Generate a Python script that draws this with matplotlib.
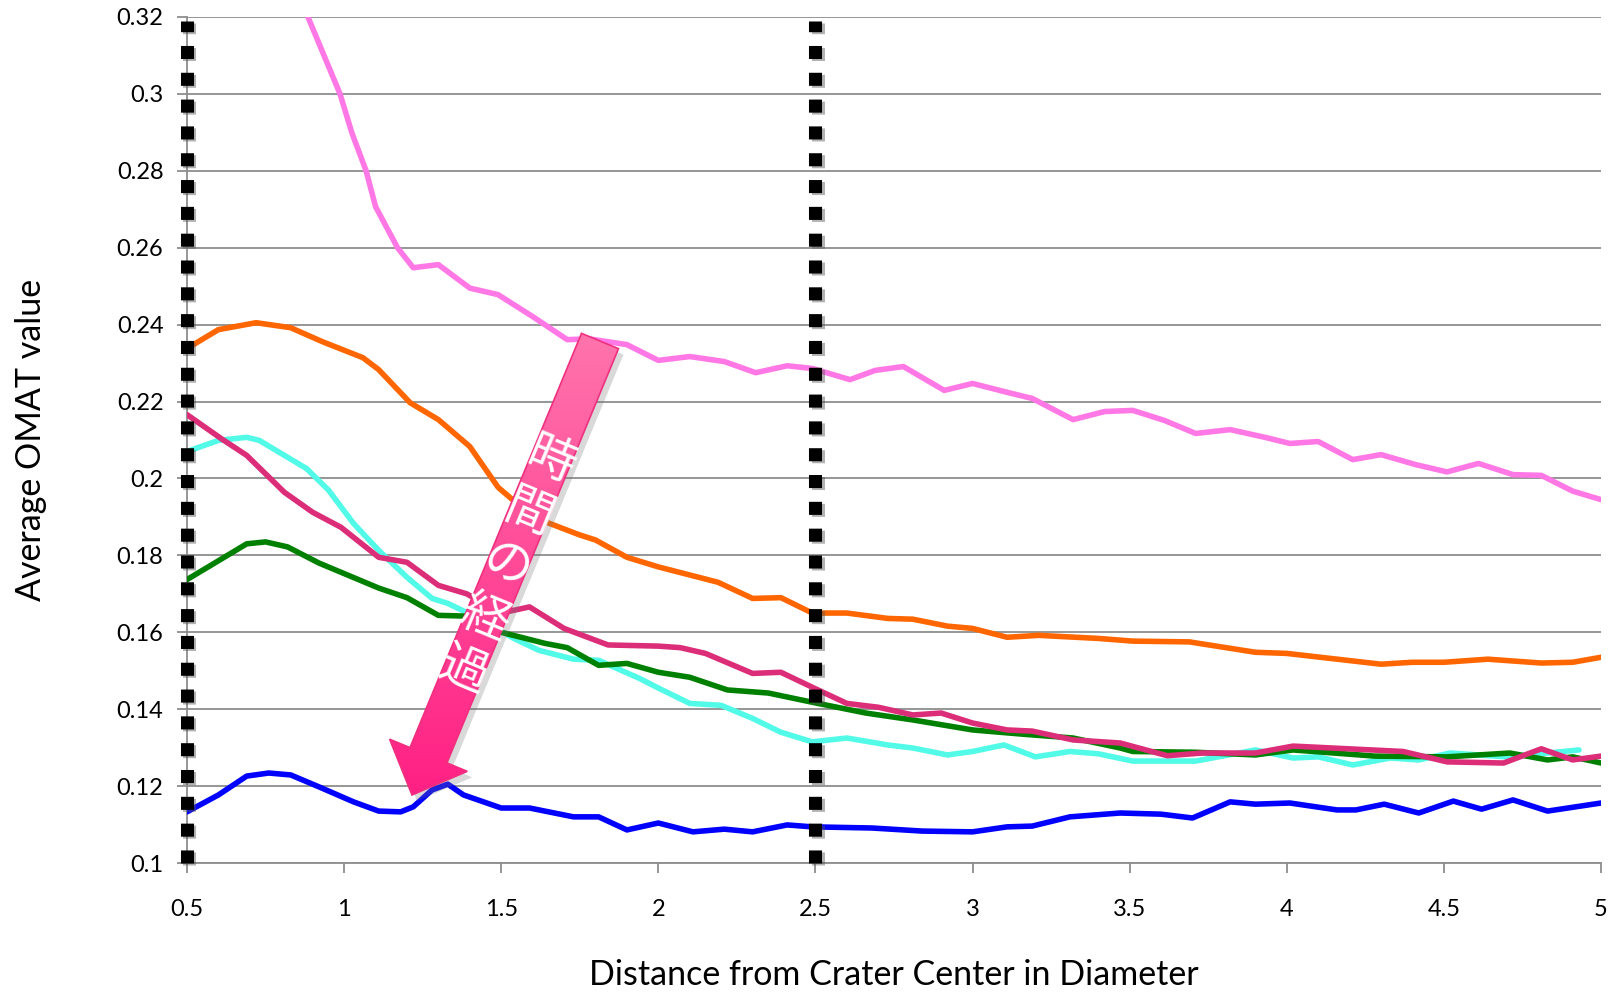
import numpy as np
import matplotlib
matplotlib.use('Agg')
import matplotlib.pyplot as plt
import matplotlib.patheffects as pe
from matplotlib.patches import Polygon
from matplotlib.colors import LinearSegmentedColormap

plt.rcParams['font.family'] = ['Lato', 'DejaVu Sans']

# series
pink_x = [0.885, 0.987, 1.025, 1.07, 1.10, 1.17, 1.22, 1.30, 1.40, 1.49, 1.60, 1.71, 1.78, 1.90, 2.0, 2.10,
          2.21, 2.31, 2.41, 2.49, 2.61, 2.69, 2.78, 2.91, 3.0, 3.11, 3.19, 3.32, 3.42, 3.51, 3.61, 3.71,
          3.82, 3.93, 4.01, 4.10, 4.21, 4.30, 4.41, 4.51, 4.61, 4.72, 4.81, 4.91, 5.0]
pink_y = [0.320, 0.300, 0.2898, 0.280, 0.2707, 0.260, 0.2548, 0.2556, 0.2495, 0.2478, 0.2421, 0.2361, 0.2363,
          0.2348, 0.2307, 0.2317, 0.2304, 0.2275, 0.2293, 0.2286, 0.2257, 0.2281, 0.2291, 0.2229, 0.2247,
          0.2224, 0.2208, 0.2153, 0.2174, 0.2177, 0.2151, 0.2117, 0.2127, 0.2107, 0.2091, 0.2096, 0.2049,
          0.2062, 0.2036, 0.2017, 0.2039, 0.2010, 0.2008, 0.1967, 0.1945]

orange_x = [0.5, 0.6, 0.72, 0.83, 0.93, 1.06, 1.11, 1.21, 1.30, 1.40, 1.49, 1.60, 1.75, 1.80, 1.90, 2.0,
            2.19, 2.30, 2.39, 2.49, 2.60, 2.73, 2.81, 2.92, 3.0, 3.11, 3.21, 3.40, 3.51, 3.69, 3.90, 4.0,
            4.30, 4.40, 4.50, 4.64, 4.81, 4.91, 5.0]
orange_y = [0.2338, 0.2387, 0.2405, 0.2392, 0.2356, 0.2314, 0.2283, 0.2197, 0.2153, 0.2083, 0.1977, 0.1900,
            0.1853, 0.1840, 0.1795, 0.1770, 0.1730, 0.1688, 0.1690, 0.1650, 0.1650, 0.1636, 0.1634, 0.1616,
            0.1610, 0.1587, 0.1592, 0.1584, 0.1577, 0.1575, 0.1548, 0.1545, 0.1517, 0.1522, 0.1522, 0.1530,
            0.1520, 0.1522, 0.1535]

magenta_x = [0.5, 0.61, 0.69, 0.74, 0.81, 0.90, 0.99, 1.05, 1.11, 1.20, 1.30, 1.39, 1.50, 1.59, 1.70, 1.84,
             2.0, 2.07, 2.15, 2.30, 2.39, 2.49, 2.60, 2.70, 2.81, 2.90, 3.0, 3.11, 3.19, 3.32, 3.47, 3.62,
             3.73, 3.90, 4.02, 4.37, 4.51, 4.69, 4.81, 4.91, 5.0]
magenta_y = [0.2166, 0.2103, 0.2060, 0.2020, 0.1964, 0.1912, 0.1873, 0.1834, 0.1795, 0.1782, 0.1722, 0.1700,
             0.1650, 0.1666, 0.1610, 0.1567, 0.1564, 0.1560, 0.1545, 0.1493, 0.1496, 0.1457, 0.1415, 0.1405,
             0.1385, 0.1390, 0.1364, 0.1346, 0.1343, 0.1320, 0.1312, 0.1279, 0.1286, 0.1286, 0.1304, 0.1290,
             0.1263, 0.1260, 0.1297, 0.1268, 0.1278]

cyan_x = [0.5, 0.60, 0.69, 0.73, 0.81, 0.88, 0.95, 1.03, 1.11, 1.20, 1.28, 1.33, 1.43, 1.54, 1.62, 1.73,
          1.81, 1.94, 2.0, 2.10, 2.20, 2.30, 2.39, 2.49, 2.60, 2.73, 2.81, 2.92, 3.0, 3.10, 3.20, 3.31,
          3.40, 3.51, 3.71, 3.90, 4.02, 4.10, 4.21, 4.33, 4.42, 4.52, 4.70, 4.83, 4.93]
cyan_y = [0.2070, 0.2099, 0.2107, 0.2099, 0.2060, 0.2026, 0.1970, 0.1883, 0.1813, 0.1743, 0.1688, 0.1675,
          0.1636, 0.1584, 0.1553, 0.1530, 0.1527, 0.1480, 0.1455, 0.1415, 0.1410, 0.1376, 0.1340, 0.1315,
          0.1325, 0.1307, 0.1299, 0.1281, 0.1290, 0.1307, 0.1276, 0.1290, 0.1284, 0.1265, 0.1265, 0.1294,
          0.1273, 0.1276, 0.1255, 0.1273, 0.1268, 0.1286, 0.1276, 0.1286, 0.1294]

green_x = [0.5, 0.69, 0.75, 0.82, 0.92, 1.11, 1.20, 1.30, 1.39, 1.50, 1.64, 1.71, 1.81, 1.90, 2.0, 2.10,
           2.22, 2.35, 2.49, 2.66, 2.81, 3.0, 3.16, 3.32, 3.47, 3.51, 3.71, 3.90, 4.02, 4.28, 4.51, 4.71,
           4.83, 4.91, 5.0]
green_y = [0.1737, 0.1830, 0.1835, 0.1822, 0.1780, 0.1715, 0.1690, 0.1644, 0.1642, 0.1600, 0.1571, 0.1560,
           0.1514, 0.1519, 0.1496, 0.1483, 0.1450, 0.1442, 0.1418, 0.1390, 0.1372, 0.1346, 0.1335, 0.1325,
           0.1299, 0.1290, 0.1288, 0.1281, 0.1294, 0.1278, 0.1276, 0.1286, 0.1268, 0.1276, 0.1260]

blue_x = [0.5, 0.60, 0.69, 0.76, 0.83, 0.92, 1.03, 1.11, 1.18, 1.22, 1.28, 1.33, 1.38, 1.50, 1.59, 1.73,
          1.81, 1.90, 2.0, 2.11, 2.21, 2.30, 2.41, 2.49, 2.68, 2.84, 3.0, 3.11, 3.19, 3.31, 3.47, 3.60,
          3.70, 3.82, 3.90, 4.01, 4.16, 4.22, 4.31, 4.42, 4.53, 4.62, 4.72, 4.83, 5.0]
blue_y = [0.1133, 0.1177, 0.1226, 0.1234, 0.1229, 0.1198, 0.1159, 0.1135, 0.1133, 0.1146, 0.1190, 0.1205,
          0.1177, 0.1143, 0.1143, 0.1120, 0.1120, 0.1086, 0.1104, 0.1081, 0.1088, 0.1081, 0.1099, 0.1094,
          0.1091, 0.1083, 0.1081, 0.1094, 0.1096, 0.1120, 0.1130, 0.1127, 0.1117, 0.1159, 0.1153, 0.1156,
          0.1138, 0.1138, 0.1153, 0.1130, 0.1161, 0.1140, 0.1164, 0.1135, 0.1156]

divider_x = [0.5, 2.5]
divider_y = [0.1, 0.319]
x_ticks = [0.5, 1, 1.5, 2, 2.5, 3, 3.5, 4, 4.5, 5]
x_labels = ['0.5', '1', '1.5', '2', '2.5', '3', '3.5', '4', '4.5', '5']
y_ticks = [0.1, 0.12, 0.14, 0.16, 0.18, 0.2, 0.22, 0.24, 0.26, 0.28, 0.3, 0.32]
y_labels = ['0.1', '0.12', '0.14', '0.16', '0.18', '0.2', '0.22', '0.24', '0.26', '0.28', '0.3', '0.32']
arrow_text = '時間の経過'

W, H = 1624, 997
fig = plt.figure(figsize=(W / 100, H / 100), dpi=100)
ax = fig.add_axes([187 / W, 1 - 863 / H, (1601 - 187) / W, (863 - 17) / H])

series = [
    (cyan_x, cyan_y, '#52FBE8'),
    (green_x, green_y, '#008000'),
    (magenta_x, magenta_y, '#DC2D78'),
    (blue_x, blue_y, '#0000FF'),
    (orange_x, orange_y, '#FF6600'),
    (pink_x, pink_y, '#FF78E6'),
]
for xs, ys, c in series:
    ax.plot(xs, ys, color=c, lw=4.0, solid_joinstyle='round', solid_capstyle='round', zorder=3)

# black square dotted dividers
for dx in divider_x:
    ax.plot([dx, dx], divider_y, color='black', lw=9.4, dashes=(1.0, 1.054),
            dash_capstyle='butt', zorder=5, clip_on=False,
            path_effects=[pe.SimpleLineShadow(offset=(1.5, -1.5), shadow_color='#555555', alpha=0.45),
                          pe.Normal()])

ax.set_xlim(0.5, 5)
ax.set_ylim(0.1, 0.32)
ax.set_xticks(x_ticks)
ax.set_xticklabels(x_labels)
ax.set_yticks(y_ticks)
ax.set_yticklabels(y_labels)
ax.yaxis.grid(True, color='#8e8e8e', lw=1.3)
ax.set_axisbelow(True)
for s in ['top', 'right']:
    ax.spines[s].set_visible(False)
for s in ['left', 'bottom']:
    ax.spines[s].set_color('#8e8e8e')
    ax.spines[s].set_linewidth(1.3)
ax.tick_params(axis='x', direction='out', length=7, width=1.3, color='#8e8e8e', pad=19, labelsize=17)
ax.tick_params(axis='y', direction='out', length=7, width=1.3, color='#8e8e8e', pad=10, labelsize=17)
ax.set_xlabel('Distance from Crater Center in Diameter', fontsize=24.5, labelpad=28)
ax.set_ylabel('Average OMAT value', fontsize=24.5, labelpad=50)

# overlay in pixel coordinates for the arrow annotation
ov = fig.add_axes([0, 0, 1, 1], zorder=10)
ov.set_xlim(0, W)
ov.set_ylim(H, 0)
ov.axis('off')
ov.patch.set_alpha(0)

tail = np.array([600.0, 341.0])
tip = np.array([412.0, 795.0])
u = (tip - tail) / np.linalg.norm(tip - tail)
n = np.array([-u[1], u[0]]) * -1
shaft_hw, head_hw, head_len = 20, 42, 43
base = tip - head_len * u
pts = np.array([tail + shaft_hw * n, base + shaft_hw * n, base + head_hw * n, tip,
                base - head_hw * n, base - shaft_hw * n, tail - shaft_hw * n])

shadow = Polygon(pts + np.array([5, 6]), closed=True, facecolor='#777777', alpha=0.28, edgecolor='none')
ov.add_patch(shadow)
poly = Polygon(pts, closed=True, facecolor='none', edgecolor='#F0307E', lw=1.2, zorder=3)
ov.add_patch(poly)
cmap = LinearSegmentedColormap.from_list('arr', ['#FF74AC', '#FF2084'])
grad = np.linspace(0, 1, 256).reshape(-1, 1)
im = ov.imshow(grad, cmap=cmap, extent=[pts[:, 0].min(), pts[:, 0].max(), pts[:, 1].max(), pts[:, 1].min()],
               aspect='auto', origin='upper', zorder=2)
im.set_clip_path(poly)
ov.set_xlim(0, W)
ov.set_ylim(H, 0)

ang = np.degrees(np.arctan2(-u[0], u[1]))
for i, ch in enumerate(arrow_text):
    p = tail + (130 + 57 * i) * u
    ov.text(p[0], p[1], ch, color='white', fontsize=35, ha='center', va='center',
            rotation=-ang, rotation_mode='anchor', family=['Noto Sans CJK JP', 'DejaVu Sans'], zorder=4)

fig.savefig('out.png', dpi=100, facecolor='white')
